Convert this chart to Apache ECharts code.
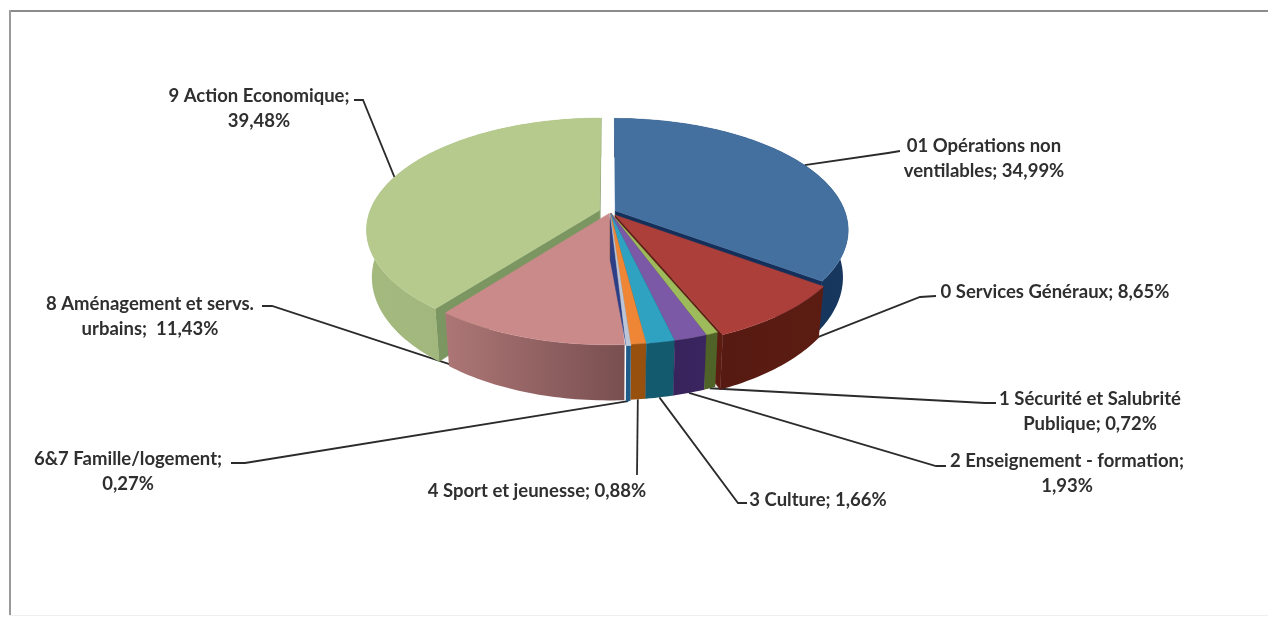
<!DOCTYPE html>
<html>
<head>
<meta charset="utf-8">
<title>Répartition par fonction</title>
<style>html,body{margin:0;padding:0;background:#fff}#chart{width:1268px;height:618px}</style>
<script src="https://cdn.jsdelivr.net/npm/echarts@6/dist/echarts.min.js"></script>
</head>
<body>
<div id="chart"></div>
<script>
// Budget shares per function, clockwise from twelve o'clock
const categories = [
  '01 Opérations non\nventilables', '0 Services Généraux', '1 Sécurité et Salubrité\nPublique',
  '2 Enseignement - formation', '3 Culture', '4 Sport et jeunesse',
  '6&7 Famille/logement', '8 Aménagement et servs.\nurbains', '9 Action Economique'
];
const shares = [34.99, 8.65, 0.72, 1.93, 1.66, 0.88, 0.27, 11.43, 39.48];
const separators = ['; ', '; ', '; ', ';\n', '; ', '; ', ';\n', ';  ', ';\n'];

// Slice appearance
const topColors = ['#44709f', '#ad3f3b', '#9dbb5a', '#7b59a6', '#2fa2c2', '#ee8636', '#bcc6d6', '#cb8a8a', '#b6ca8e'];
const sideColors = [
  ['#17375e', '#123058'], ['#5c1c12', '#561a12'], ['#4f6228', '#4f6228'], ['#3a2560', '#38235c'],
  ['#145a6e', '#145a6e'], ['#98500f', '#98500f'], ['#1f5c8a', '#1f5c8a'], ['#ad7676', '#794f50'], ['#a3b97e', '#9db37a']
];
const wallColors = ['#14305a', '#5c1c12', '#4f6228', '#3a2560', '#145a6e', '#98500f', '#2c3f86', '#8a5a5a', '#7c9661'];
const explode = [0.025, 0.035, 0.012, 0.012, 0.012, 0.012, 0.02, 0.014, 0.048];
const paintOrder = [0, 8, 7, 1, 2, 3, 4, 5, 6];

// Callout placement: label centre, elbow end of the stub, and how far down the rim the leader lands
const callouts = [
  { x: 984, y: 159, stub: [[900, 151], [888, 153]], depth: 0 },
  { x: 1055, y: 292, stub: [[936, 296], [920, 297]], depth: 0.72 },
  { x: 1090, y: 412, stub: [[996, 403], [985, 403]], depth: 1 },
  { x: 1067, y: 474, stub: [[946, 466], [936, 466]], depth: 1 },
  { x: 818, y: 500, stub: [[747, 503], [738, 503]], depth: 1 },
  { x: 537, y: 491, stub: null, depth: 1 },
  { x: 128, y: 472, stub: [[231, 463], [245, 463]], depth: 1 },
  { x: 150, y: 317, stub: [[262, 306], [272, 306]], depth: 0.95 },
  { x: 259, y: 109, stub: [[354, 100], [363, 100]], depth: 0 }
];
const leaderEnd4 = [637, 475];

// Oblique projection of the disc, with the near edge enlarged
const CX = 610, CY = 212, A = 230, B = 108.5, K = 0.17, DEPTH = 46, TAPER = 0.022;
const total = shares.reduce((a, b) => a + b, 0);

const spans = [];
shares.reduce((acc, v) => {
  const end = acc + v / total * Math.PI * 2;
  spans.push([acc, end]);
  return end;
}, 0);

function project(i, angle, r, z) {
  const mid = (spans[i][0] + spans[i][1]) / 2;
  const u = explode[i] * Math.sin(mid) + r * Math.sin(angle);
  const v = -explode[i] * Math.cos(mid) - r * Math.cos(angle);
  const s = 1 / (1 - K * v);
  return [CX + A * u * s * (1 - TAPER * z), CY + B * v * s + DEPTH * s * z];
}

function arc(i, z) {
  const [a0, a1] = spans[i];
  const n = Math.max(4, Math.ceil((a1 - a0) / 0.02));
  const pts = [];
  for (let k = 0; k <= n; k++) pts.push(project(i, a0 + (a1 - a0) * k / n, 1, z));
  return pts;
}

function renderSlice(params) {
  const i = paintOrder[params.dataIndex];
  const [a0, a1] = spans[i];
  const children = [];
  const wall = (angle) => {
    const points = [project(i, angle, 0, 0), project(i, angle, 1, 0)];
    // A face seen almost edge-on stops at the rim so it stays clear of the neighbouring side
    if (Math.abs(Math.sin(angle)) > 0.1) points.push(project(i, angle, 1, 1));
    points.push(project(i, angle, 0, 1));
    return {
      type: 'polygon',
      shape: { points },
      style: { fill: wallColors[i], stroke: wallColors[i], lineWidth: 0.5 }
    };
  };
  // Only the radial faces turned towards the viewer are painted
  if (Math.sin(a1) > 0) children.push(wall(a1));
  if (Math.sin(a0) < 0) children.push(wall(a0));
  const rimTop = arc(i, 0), rimBottom = arc(i, 1).reverse();
  children.push({
    type: 'polygon',
    shape: { points: rimTop.concat(rimBottom) },
    style: {
      fill: { type: 'linear', x: 0, y: 0, x2: 1, y2: 0, colorStops: [
        { offset: 0, color: sideColors[i][i === 7 || i === 8 ? 0 : 1] },
        { offset: 1, color: sideColors[i][i === 7 || i === 8 ? 1 : 0] }
      ] },
      stroke: null
    }
  });
  children.push({
    type: 'polygon',
    shape: { points: [project(i, a0, 0, 0)].concat(rimTop) },
    style: { fill: topColors[i], stroke: topColors[i], lineWidth: 0.4 }
  });
  return { type: 'group', children };
}

function labelFor(i) {
  return categories[i] + separators[i] + shares[i].toFixed(2).replace('.', ',') + '%';
}

function renderCallout(params) {
  const i = params.dataIndex;
  const c = callouts[i];
  const mid = (spans[i][0] + spans[i][1]) / 2;
  const anchor = project(i, mid, 1, c.depth);
  const points = c.stub ? c.stub.concat([anchor]) : [leaderEnd4, anchor];
  return {
    type: 'group',
    children: [
      { type: 'polyline', shape: { points }, style: { stroke: '#2b2b2b', lineWidth: 1.8, fill: null } },
      { type: 'text', style: {
          x: c.x, y: c.y, text: labelFor(i), align: 'center', verticalAlign: 'middle',
          font: 'bold 18.5px Lato', lineHeight: 25, fill: '#2f2f2f'
      } }
    ]
  };
}

const chart = echarts.init(document.getElementById('chart'), null, { renderer: 'canvas' });
chart.setOption({
  animation: false,
  backgroundColor: '#ffffff',
  graphic: [
    { type: 'rect', shape: { x: 9, y: 10, width: 1259, height: 2 }, style: { fill: '#8c8c8c' }, silent: true },
    { type: 'rect', shape: { x: 9, y: 10, width: 2, height: 606 }, style: { fill: '#9a9a9a' }, silent: true },
    { type: 'rect', shape: { x: 9, y: 615, width: 1259, height: 1 }, style: { fill: '#efefef' }, silent: true }
  ],
  series: [
    { type: 'custom', coordinateSystem: 'none', z: 1, silent: true, renderItem: renderCallout, data: shares },
    { type: 'custom', coordinateSystem: 'none', z: 2, silent: true, renderItem: renderSlice, data: paintOrder.map(i => shares[i]) }
  ]
});
</script>
</body>
</html>
